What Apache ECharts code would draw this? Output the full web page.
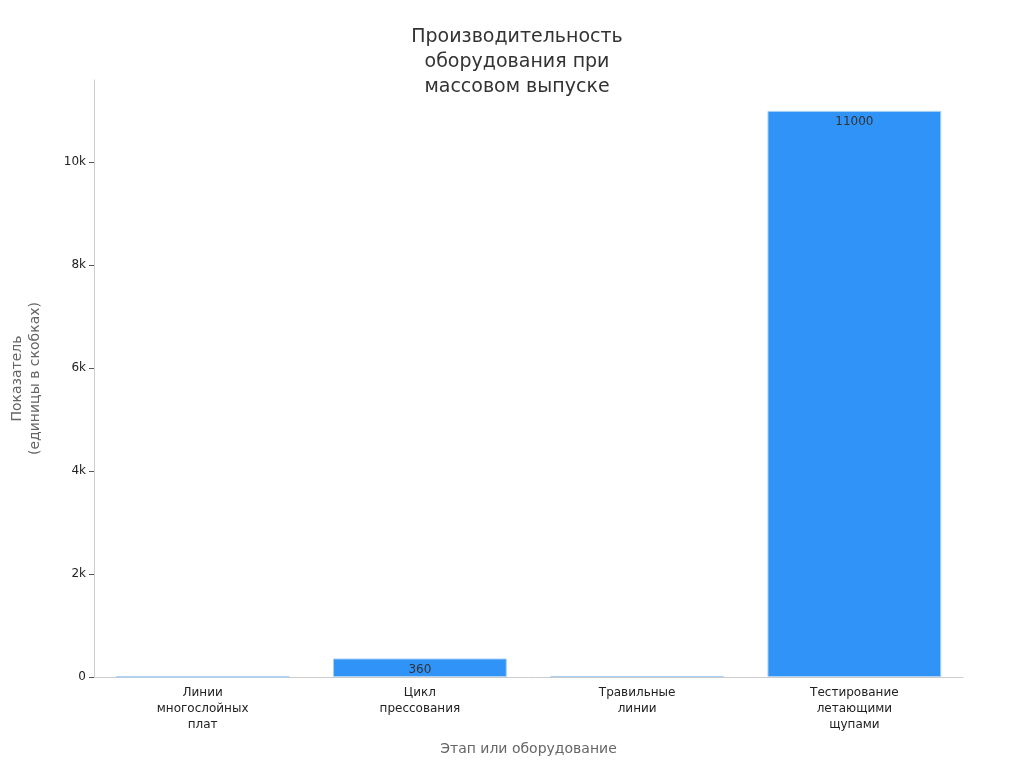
<!DOCTYPE html><html><head><meta charset="utf-8"><script src="https://cdn.jsdelivr.net/npm/echarts@6/dist/echarts.min.js"></script></head><body style="margin:0"><div id="c" style="width:1024px;height:768px"></div><script>
const categories=['Линии\nмногослойных\nплат','Цикл\nпрессования','Травильные\nлинии','Тестирование\nлетающими\nщупами'];
const values=[8,360,20,11000];
const labels=['','360','','11000'];
const ch=echarts.init(document.getElementById('c'));
ch.setOption({
title:{text:'Производительность\nоборудования при\nмассовом выпуске',left:512,top:20,textAlign:'center',textStyle:{fontFamily:'DejaVu Sans',fontWeight:'normal',fontSize:19,color:'#333',lineHeight:25}},
grid:{left:85,right:61,top:80,bottom:91},
xAxis:{type:'category',data:categories,name:'Этап или оборудование',nameLocation:'middle',nameGap:65,nameTextStyle:{fontFamily:'DejaVu Sans',fontSize:14,color:'#666'},axisLine:{lineStyle:{color:'#ccc'}},axisTick:{alignWithLabel:true,lineStyle:{color:'#555'}},axisLabel:{fontFamily:'DejaVu Sans',fontSize:12,color:'#222',lineHeight:16,interval:0}},
yAxis:{type:'value',min:0,max:11600,interval:2000,name:'Показатель\n(единицы в скобках)',nameLocation:'middle',nameGap:50,nameTextStyle:{fontFamily:'DejaVu Sans',fontSize:14,color:'#666',lineHeight:18},axisLine:{show:true,lineStyle:{color:'#ccc'}},axisTick:{show:true,lineStyle:{color:'#555'}},splitLine:{show:false},axisLabel:{showMaxLabel:false,fontFamily:'DejaVu Sans',fontSize:12,color:'#222',formatter:v=>v>=1000?(v/1000)+'k':v}},
series:[{type:'bar',data:values,barWidth:'80%',itemStyle:{color:'#2f93f8',borderColor:'#a9d0f5',borderWidth:1},label:{show:true,position:'insideTop',fontFamily:'DejaVu Sans',fontSize:12,color:'#333',formatter:p=>labels[p.dataIndex]}}]
});
</script></body></html>
